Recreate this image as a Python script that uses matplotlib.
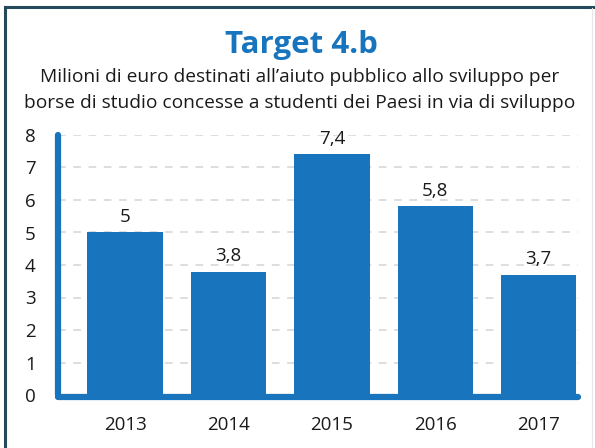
import matplotlib
matplotlib.use("Agg")
import matplotlib.pyplot as plt
from matplotlib.lines import Line2D

# ── Data ──────────────────────────────────────────────────────────────────────
years = ["2013", "2014", "2015", "2016", "2017"]
values = [5.0, 3.8, 7.4, 5.8, 3.7]
value_labels = ["5", "3,8", "7,4", "5,8", "3,7"]
y_ticks = [0, 1, 2, 3, 4, 5, 6, 7, 8]

BLUE = "#1874bd"
TEXT = "#1a1a1a"
FONT = "Open Sans"

plt.rcParams["font.family"] = [FONT, "DejaVu Sans"]

W, H = 595, 448
fig = plt.figure(figsize=(W / 100, H / 100), dpi=100)
fig.patch.set_facecolor("white")

# outer frame (top + left edges visible)
fig.add_artist(Line2D([5 / W, 5 / W], [0, 1 - 7 / H], transform=fig.transFigure,
                      color="#24495a", lw=2.2))
fig.add_artist(Line2D([5 / W, 1], [1 - 7 / H, 1 - 7 / H], transform=fig.transFigure,
                      color="#24495a", lw=2.2))
fig.add_artist(Line2D([592 / W, 592 / W], [0, 1 - 8 / H], transform=fig.transFigure,
                      color="#e6e6e6", lw=0.8))

# titles
fig.text(301 / W, 1 - 45 / H, "Target 4.b", ha="center", va="center",
         fontsize=22.5, fontweight="bold", color=BLUE)
fig.text(300 / W, 1 - 77 / H, "Milioni di euro destinati all\u2019aiuto pubblico allo sviluppo per",
         ha="center", va="center", fontsize=13.8, color=TEXT)
fig.text(300 / W, 1 - 103 / H, "borse di studio concesse a studenti dei Paesi in via di sviluppo",
         ha="center", va="center", fontsize=13.8, color=TEXT)

# ── Axes ──────────────────────────────────────────────────────────────────────
left, right = 58 / W, 578 / W
bottom, top = 1 - 395 / H, 1 - 135 / H
ax = fig.add_axes([left, bottom, right - left, top - bottom])

x = list(range(len(years)))
bars = ax.bar(x, values, width=0.73, color=BLUE, zorder=3)

ax.set_ylim(0, 8)
ax.set_xlim(-0.648, 4.38)
ax.set_yticks(y_ticks)
ax.set_xticks(x)
ax.set_xticklabels(years)
ax.tick_params(axis="both", length=0, labelsize=13.5, colors=TEXT)
ax.tick_params(axis="y", pad=16)
ax.tick_params(axis="x", pad=15)

ax.yaxis.grid(True, linestyle=(0, (5, 5)), color="#d4d4d4", lw=1.1, zorder=0)
ax.set_axisbelow(True)
for s in ["top", "right", "left", "bottom"]:
    ax.spines[s].set_visible(False)

# thick rounded axis lines
ax.plot([0, 0], [0, 1], transform=ax.transAxes, color=BLUE, lw=4.5,
        solid_capstyle="round", clip_on=False, zorder=4)
ax.plot([0, 1], [-0.009, -0.009], transform=ax.transAxes, color=BLUE, lw=4.5,
        solid_capstyle="round", clip_on=False, zorder=4)

# value labels
for xi, v, lab in zip(x, values, value_labels):
    ax.annotate(lab, (xi, v), xytext=(0, 5), textcoords="offset points",
                ha="center", va="bottom", fontsize=13.5, color=TEXT)

fig.savefig("out.png", dpi=100, facecolor="white")
